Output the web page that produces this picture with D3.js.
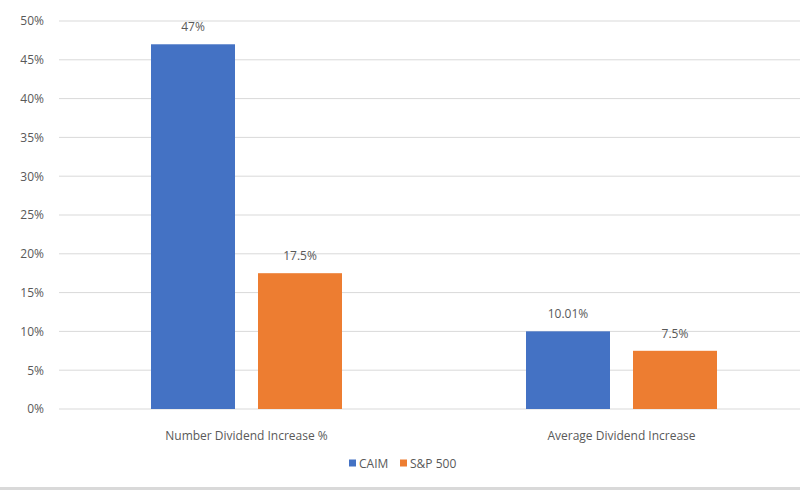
<!DOCTYPE html>
<html>
<head>
<meta charset="utf-8">
<script src="https://cdn.jsdelivr.net/npm/d3@7"></script>
<style>
  body { margin: 0; background: #fff; }
  text { font-family: "Open Sans", sans-serif; fill: #595959; }
</style>
</head>
<body>
<div id="chart"></div>
<script>
const categories = ["Number Dividend Increase %", "Average Dividend Increase"];
const seriesNames = ["CAIM", "S&P 500"];
const caimValues = [47, 10.01];
const spValues = [17.5, 7.5];
const valueLabels = [["47%", "17.5%"], ["10.01%", "7.5%"]];
const yTicks = [0, 5, 10, 15, 20, 25, 30, 35, 40, 45, 50];
const colors = ["#4472C4", "#ED7D31"];

const width = 800, height = 490;
const svg = d3.select("#chart").append("svg")
    .attr("width", width)
    .attr("height", height);

const y = d3.scaleLinear().domain([0, 50]).range([409, 21]);

const x0 = d3.scaleBand().domain(categories).range([59, 809]);
const groupWidth = 191;
const x1 = d3.scaleBand().domain(seriesNames)
    .range([(x0.bandwidth() - groupWidth) / 2, (x0.bandwidth() + groupWidth) / 2])
    .paddingInner(0.215);

// gridlines
svg.append("g")
    .selectAll("line")
    .data(yTicks)
    .join("line")
    .attr("x1", 59)
    .attr("x2", width)
    .attr("y1", d => y(d))
    .attr("y2", d => y(d))
    .attr("stroke", "#d9d9d9")
    .attr("stroke-width", 1);

// y axis labels
const yAxis = svg.append("g")
    .attr("transform", "translate(47,0)")
    .call(d3.axisLeft(y).tickValues(yTicks).tickSize(0).tickFormat(d => d + "%"));
yAxis.select(".domain").remove();
yAxis.selectAll("text").attr("font-size", 12).attr("dx", 0)
    .style("font-family", "'Open Sans', sans-serif").attr("fill", "#595959");

const rows = categories.map((c, i) => ({
    category: c,
    values: [caimValues[i], spValues[i]],
    labels: valueLabels[i]
}));

const groups = svg.append("g")
    .selectAll("g")
    .data(rows)
    .join("g")
    .attr("transform", d => `translate(${x0(d.category)},0)`);

groups.selectAll("rect")
    .data(d => d.values.map((v, j) => ({ name: seriesNames[j], value: v, j })))
    .join("rect")
    .attr("x", d => x1(d.name))
    .attr("width", x1.bandwidth())
    .attr("y", d => y(d.value))
    .attr("height", d => y(0) - y(d.value))
    .attr("fill", d => colors[d.j]);

groups.selectAll("text.val")
    .data(d => d.values.map((v, j) => ({ name: seriesNames[j], value: v, label: d.labels[j] })))
    .join("text")
    .attr("class", "val")
    .attr("x", d => x1(d.name) + x1.bandwidth() / 2)
    .attr("y", d => y(d.value) - 13)
    .attr("text-anchor", "middle")
    .attr("font-size", 12)
    .text(d => d.label);

// category labels
svg.append("g")
    .selectAll("text")
    .data(categories)
    .join("text")
    .attr("x", d => x0(d) + x0.bandwidth() / 2)
    .attr("y", 440)
    .attr("text-anchor", "middle")
    .attr("font-size", 12)
    .text(d => d);

// legend
const legendItems = [{ name: "CAIM", x: 349 }, { name: "S&P 500", x: 400 }];
const legend = svg.append("g")
    .selectAll("g")
    .data(legendItems)
    .join("g")
    .attr("transform", d => `translate(${d.x},463)`);
legend.append("rect")
    .attr("x", 0).attr("y", -3.5)
    .attr("width", 7).attr("height", 7)
    .attr("fill", (d, i) => colors[i]);
legend.append("text")
    .attr("x", 10).attr("y", 4.5)
    .attr("font-size", 12)
    .text(d => d.name);

// bottom border band
svg.append("rect")
    .attr("x", 0).attr("y", 487)
    .attr("width", width).attr("height", 3)
    .attr("fill", "#d9d9d9");
</script>
</body>
</html>
